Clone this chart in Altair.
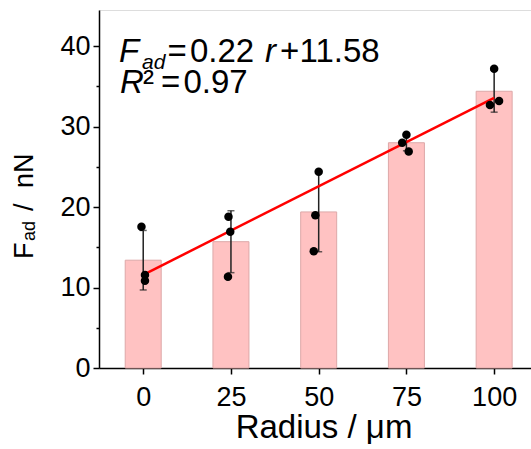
import altair as alt
import pandas as pd

# ---- data ----
radius = [0, 25, 50, 75, 100]
bar_mean = [13.4, 15.7, 19.4, 28.0, 34.4]
err_sd = [3.7, 3.85, 4.95, 1.0, 2.6]

pt_radius = [0, 0, 0, 25, 25, 25, 50, 50, 50, 75, 75, 75, 100, 100, 100]
pt_jitter = [-0.5, 0.5, 0.5, -0.7, -0.2, -0.85, 0.0, -0.95, -1.4, -1.2, 0.0, 0.65, 0.0, -1.2, 1.4]
pt_force = [17.55, 11.55, 10.85, 18.8, 16.95, 11.35, 24.4, 19.0, 14.5, 28.0, 29.0, 26.9, 37.2, 32.7, 33.2]

fit_r = [0, 100]
fit_f = [11.58, 33.58]

x_ticks = [0, 25, 50, 75, 100]
y_ticks = [0, 5, 10, 15, 20, 25, 30, 35, 40]

FONT = "Liberation Sans"

bars_df = pd.DataFrame({"r": radius, "mean": bar_mean, "sd": err_sd})
bars_df["lo"] = bars_df["mean"] - bars_df["sd"]
bars_df["hi"] = bars_df["mean"] + bars_df["sd"]
pts_df = pd.DataFrame({"r": [a + b for a, b in zip(pt_radius, pt_jitter)], "f": pt_force})
fit_df = pd.DataFrame({"r": fit_r, "f": fit_f})

xscale = alt.Scale(domain=[-12.6, 110.5], nice=False, zero=False, padding=0)
yscale = alt.Scale(domain=[0, 44.5], nice=False, zero=False)

xaxis = alt.Axis(values=x_ticks, title=None, labelFontSize=27, labelFont=FONT, labelColor="black",
                 labelBaseline="alphabetic", labelPadding=31, tickSize=6, tickColor="black",
                 tickWidth=1.5, domainColor="black", domainWidth=1.5, grid=False, labelFlush=False)
yaxis = alt.Axis(values=y_ticks, title=None, labelFontSize=27, labelFont=FONT, labelColor="black",
                 labelExpr="datum.value % 10 === 0 ? datum.label : ''",
                 tickSize={"condition": {"test": "datum.value % 10 === 0", "value": 6}, "value": 3},
                 labelPadding=3, tickColor="black", tickWidth=1.5, domainColor="black",
                 domainWidth=1.5, grid=False)

bars = alt.Chart(bars_df).mark_bar(size=36, color="#FFC2C2", stroke="#DDA8A8", strokeWidth=1).encode(
    x=alt.X("r:Q", scale=xscale, axis=xaxis),
    y=alt.Y("mean:Q", scale=yscale, axis=yaxis),
)
err = alt.Chart(bars_df).mark_rule(color="#222222", strokeWidth=1.5).encode(
    x="r:Q", y="lo:Q", y2="hi:Q")
cap_lo = alt.Chart(bars_df).mark_tick(color="#222222", orient="horizontal", size=7, thickness=1.5).encode(
    x="r:Q", y="lo:Q")
cap_hi = alt.Chart(bars_df).mark_tick(color="#222222", orient="horizontal", size=7, thickness=1.5).encode(
    x="r:Q", y="hi:Q")
fit = alt.Chart(fit_df).mark_line(color="#FF0000", strokeWidth=2.5).encode(x="r:Q", y="f:Q")
pts = alt.Chart(pts_df).mark_circle(color="black", size=72, opacity=1).encode(x="r:Q", y="f:Q")

OX, OY = 99, 10  # plot origin in page pixels


def txt(s, x, y, size, style="normal", angle=0, align="left", baseline="alphabetic"):
    return alt.Chart(alt.Data(values=[{}])).mark_text(
        text=s, font=FONT, fontSize=size, fontStyle=style, angle=angle, align=align,
        baseline=baseline, color="black").encode(x=alt.value(x - OX), y=alt.value(y - OY))


texts = [
    # equation
    txt("F", 119, 62, 33, "italic"),
    txt("ad", 142, 69, 21, "italic"),
    txt("=", 167.5, 62, 33),
    txt("0.22", 190, 62, 33),
    txt("r", 265, 62, 33, "italic"),
    txt("+", 280, 62, 33),
    txt("11.58", 299.5, 62, 33),
    txt("R", 120, 93, 33, "italic"),
    txt("²", 143, 93, 33),
    txt("=", 161, 93, 33),
    txt("0.97", 183.5, 93, 33),
    # y title
    txt("F", 33, 259, 27, angle=270),
    txt("ad", 35, 241, 18, angle=270),
    txt("/", 33, 211, 27, angle=270),
    txt("nN", 33, 188, 27, angle=270),
    # x title
    txt("Radius / μm", 324, 438, 33, align="center"),
]

chart = alt.layer(bars, err, cap_lo, cap_hi, fit, pts, *texts).properties(
    width=432, height=358,
    autosize=alt.AutoSizeParams(type="none"),
    padding={"left": OX, "top": OY, "right": 0, "bottom": 449 - 358 - OY},
).configure_view(stroke=None).configure(background="white")

chart.save("out.html", embed_options={"renderer": "svg", "actions": False})
